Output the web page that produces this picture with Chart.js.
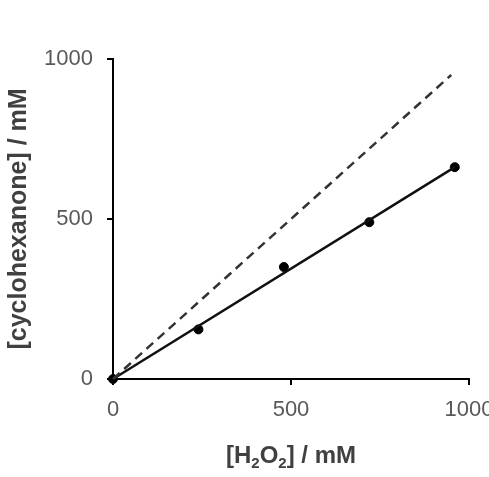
<!DOCTYPE html>
<html>
<head>
<meta charset="utf-8">
<script src="https://cdn.jsdelivr.net/npm/chart.js@4/dist/chart.umd.min.js"></script>
<style>
  html, body { margin: 0; padding: 0; background: #fff; }
  #wrap { width: 489px; height: 477px; }
</style>
</head>
<body>
<div id="wrap"><canvas id="chart" width="489" height="477"></canvas></div>
<script>
// measured data: [H2O2] vs [cyclohexanone]
const h2o2 = [0, 240, 480, 720, 960];
const cyclohexanone = [0, 155, 350, 490, 662];

// linear fit line
const fitX = [0, 960];
const fitY = [0, 662];

// dashed 1:1 reference line
const idealX = [0, 950];
const idealY = [0, 950];

const xTicks = [0, 500, 1000];
const yTicks = [0, 500, 1000];

const toPts = (xs, ys) => xs.map((x, i) => ({ x: x, y: ys[i] }));

// x title has subscripts, so it is drawn by hand
const xTitlePlugin = {
  id: 'xTitle',
  afterDraw(chart) {
    const ctx = chart.ctx;
    const area = chart.chartArea;
    const big = 'bold 24px "Liberation Sans", Arial, sans-serif';
    const small = 'bold 15px "Liberation Sans", Arial, sans-serif';
    const parts = [
      { t: '[H', f: big, dy: 0 },
      { t: '2', f: small, dy: 5 },
      { t: 'O', f: big, dy: 0 },
      { t: '2', f: small, dy: 5 },
      { t: '] / mM', f: big, dy: 0 }
    ];
    ctx.save();
    ctx.fillStyle = '#404040';
    ctx.textBaseline = 'alphabetic';
    let total = 0;
    parts.forEach(p => { ctx.font = p.f; p.w = ctx.measureText(p.t).width; total += p.w; });
    let x = (area.left + area.right) / 2 - total / 2;
    const base = 463;
    parts.forEach(p => {
      ctx.font = p.f;
      ctx.fillText(p.t, x, base + p.dy);
      x += p.w;
    });
    ctx.restore();
  }
};

const tickFont = { family: '"Liberation Sans", Arial, sans-serif', size: 22 };
const plain = v => String(v);

new Chart(document.getElementById('chart'), {
  type: 'scatter',
  data: {
    datasets: [
      {
        label: 'ideal',
        data: toPts(idealX, idealY),
        showLine: true,
        borderColor: '#333333',
        borderWidth: 2.5,
        borderDash: [9, 6],
        pointRadius: 0
      },
      {
        label: 'fit',
        data: toPts(fitX, fitY),
        showLine: true,
        borderColor: '#111111',
        borderWidth: 2.5,
        pointRadius: 0
      },
      {
        label: 'cyclohexanone',
        data: toPts(h2o2, cyclohexanone),
        showLine: false,
        pointRadius: 4.5,
        pointBackgroundColor: '#000',
        pointBorderColor: '#000',
        pointBorderWidth: 1
      }
    ]
  },
  options: {
    responsive: false,
    animation: false,
    clip: false,
    layout: { padding: { top: 59, right: 20, bottom: 0, left: 0 } },
    plugins: {
      legend: { display: false },
      tooltip: { enabled: false }
    },
    scales: {
      x: {
        type: 'linear',
        min: 0,
        max: 1000,
        afterBuildTicks: s => { s.ticks = xTicks.map(v => ({ value: v })); },
        afterFit: s => { s.height = 98; s.paddingRight = 0; s.paddingLeft = 0; },
        border: { display: true, color: '#000', width: 2 },
        grid: { drawOnChartArea: false, drawTicks: true, tickLength: 6, tickColor: '#000', lineWidth: 2 },
        ticks: { color: '#595959', font: tickFont, padding: 12, maxRotation: 0, callback: plain },
        title: { display: false }
      },
      y: {
        type: 'linear',
        min: 0,
        max: 1000,
        afterBuildTicks: s => { s.ticks = yTicks.map(v => ({ value: v })); },
        afterFit: s => { s.width = 113; },
        border: { display: true, color: '#000', width: 2 },
        grid: { drawOnChartArea: false, drawTicks: true, tickLength: 6, tickColor: '#000', lineWidth: 2 },
        ticks: { color: '#595959', font: tickFont, padding: 14, callback: plain },
        title: {
          display: true,
          text: '[cyclohexanone] / mM',
          color: '#404040',
          font: { family: '"Liberation Sans", Arial, sans-serif', size: 25, weight: 'bold' },
          padding: { top: 4, bottom: 0 }
        }
      }
    }
  },
  plugins: [xTitlePlugin]
});
</script>
</body>
</html>
